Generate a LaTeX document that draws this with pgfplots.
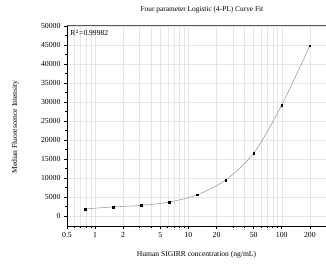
\documentclass[border=0pt]{standalone}
\usepackage{fontspec}
\setmainfont{Liberation Serif}
\usepackage{pgfplots}
\pgfplotsset{compat=1.18}
\begin{document}
\begin{tikzpicture}
\useasboundingbox (-67bp,-40bp) rectangle (259bp,226bp);
\begin{axis}[
  scale only axis,
  width=259bp, height=200bp,
  xmode=log,
  xmin=0.5, xmax=298,
  ymin=-2700, ymax=50000,
  axis x line*=bottom,
  axis y line*=left,
  axis line style={black, line width=0.6pt},
  xtick={0.5,1,2,5,10,20,50,100,200},
  xticklabels={0.5,1,2,5,10,20,50,100,200},
  minor xtick={0.6,0.7,0.8,0.9,3,4,6,7,8,9,30,40,60,70,80,90,300},
  ytick={0,5000,10000,15000,20000,25000,30000,35000,40000,45000,50000},
  scaled y ticks=false,
  minor y tick num=1,
  tick align=outside,
  major tick length=3bp,
  minor tick length=1.8bp,
  tick style={black, line width=0.5pt},
  xmajorgrids, xminorgrids, ymajorgrids,
  major grid style={gray!20, line width=0.4pt},
  minor grid style={gray!20, line width=0.4pt},
  /pgf/number format/assume math mode=true,
  /pgf/number format/1000 sep={},
  ticklabel style={font=\fontsize{7.8}{8}\selectfont},
  log ticks with fixed point,
  xlabel={Human SIGIRR concentration (ng/mL)},
  ylabel={Median Fluorescence Intensity},
  label style={font=\fontsize{7.6}{8}\selectfont},
  xlabel style={at={(axis description cs:0.5,-0.145)}, anchor=center},
  ylabel style={at={(axis description cs:-0.2,0.495)}, anchor=center},
  clip=false,
]
\addplot[gray!75, line width=0.6pt, smooth, tension=0.5] coordinates {
  (0.78125,1800) (1.5625,2330) (3.125,2740) (6.25,3610) (12.5,5540)
  (25,9410) (50,16450) (100,29180) (200,44800)
};
\addplot[only marks, mark=square*, mark size=0.8pt, black] coordinates {
  (0.78125,1800) (1.5625,2330) (3.125,2740) (6.25,3610) (12.5,5540)
  (25,9410) (50,16450) (100,29180) (200,44800)
};
\draw[gray!70!black, line width=1pt] (rel axis cs:0,1) -- (rel axis cs:1,1);
\node[anchor=west, font=\fontsize{7.6}{8}\selectfont, inner sep=0pt] at (rel axis cs:0.012,0.965) {R$^{2}$=0.99982};
\node[anchor=center, font=\fontsize{7.4}{8}\selectfont, inner sep=0pt] at (rel axis cs:0.521,1.08) {Four parameter Logistic (4-PL) Curve Fit};
\end{axis}
\end{tikzpicture}
\end{document}
